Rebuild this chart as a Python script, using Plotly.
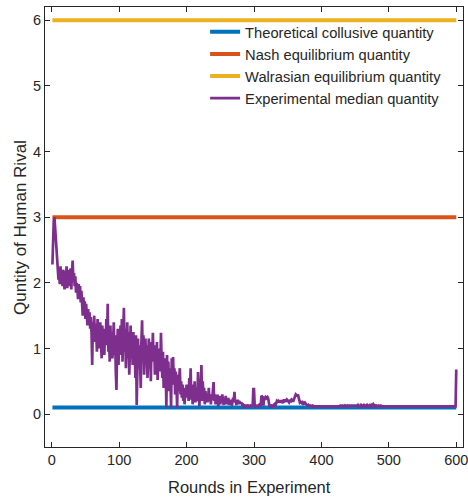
import plotly.graph_objects as go

# Benchmark quantities
collusive_q = 0.1
nash_q = 3.0
walras_q = 6.0
bench_rounds = [1, 600]

# Experimental median quantity, rounds 1-200
median_early = [
    2.28, 2.75, 2.95, 3.0, 2.85, 2.6, 2.45, 2.3, 2.2, 2.05,
    2.1, 1.98, 2.25, 2.0, 2.12, 1.95, 2.2, 2.05, 1.9, 2.18,
    2.02, 2.25, 1.92, 2.1, 2.2, 1.95, 2.08, 2.22, 1.9, 2.15,
    2.34, 2.05, 2.15, 1.95, 2.1, 1.85, 2.0, 1.92, 1.75, 1.98,
    1.8, 1.95, 1.7, 1.88, 1.65, 1.5, 1.78, 1.6, 1.72, 1.45,
    1.68, 1.52, 1.35, 1.6, 1.42, 1.55, 1.3, 1.48, 1.25, 0.75,
    1.4, 1.2, 1.5, 1.1, 1.38, 1.25, 0.95, 1.45, 1.15, 1.3,
    1.0, 1.4, 1.18, 0.85, 1.35, 1.05, 1.25, 0.9, 1.3, 1.1,
    1.45, 1.05, 1.68, 0.95, 1.2, 0.8, 1.35, 1.0, 1.25, 0.85,
    1.1, 1.4, 0.9, 1.2, 0.65, 0.37, 1.05, 1.3, 0.75, 1.15,
    0.9, 1.35, 1.0, 1.45, 0.8, 1.2, 1.62, 0.95, 1.3, 0.7,
    1.1, 1.4, 0.85, 1.25, 0.6, 1.05, 1.35, 0.9, 1.15, 0.75,
    1.25, 0.95, 1.1, 0.55, 1.2, 0.14, 0.9, 1.15, 0.7, 1.05,
    0.8, 0.4, 1.1, 1.43, 0.85, 1.2, 0.6, 1.0, 1.15, 0.75,
    1.05, 0.55, 0.95, 1.15, 0.7, 1.0, 0.5, 1.1, 0.85, 1.24,
    0.8, 1.05, 0.6, 0.95, 0.75, 1.1, 0.52, 0.9, 0.7, 1.0,
    0.65, 1.24, 0.8, 0.55, 0.95, 0.4, 0.85, 0.6, 0.75, 0.1,
    0.9, 0.5, 0.8, 0.35, 0.7, 0.55, 0.1, 0.85, 0.45, 0.87,
    0.5, 0.7, 0.3, 0.65, 0.45, 0.1, 0.6, 0.35, 0.55, 0.7,
    0.3, 0.5, 0.25, 0.45, 0.2, 0.4, 0.15, 0.35, 0.28, 0.45,
]

# rounds 201-390
median_mid = [
    0.25, 0.4, 0.2, 0.55, 0.3, 0.7, 0.22, 0.45, 0.15, 0.35,
    0.25, 0.5, 0.18, 0.4, 0.3, 0.2, 0.64, 0.35, 0.12, 0.45,
    0.3, 0.75, 0.2, 0.5, 0.28, 0.4, 0.15, 0.35, 0.22, 0.3,
    0.18, 0.25, 0.4, 0.2, 0.3, 0.15, 0.28, 0.22, 0.35, 0.49,
    0.2, 0.3, 0.15, 0.25, 0.18, 0.3, 0.12, 0.22, 0.28, 0.15,
    0.25, 0.18, 0.3, 0.2, 0.14, 0.24, 0.18, 0.28, 0.15, 0.22,
    0.18, 0.25, 0.14, 0.2, 0.16, 0.22, 0.13, 0.18, 0.25, 0.2,
    0.34, 0.18, 0.2, 0.14, 0.18, 0.22, 0.15, 0.2, 0.18, 0.16,
    0.18, 0.15, 0.13, 0.14, 0.12, 0.13, 0.12, 0.14, 0.12, 0.13,
    0.12, 0.13, 0.12, 0.12, 0.13, 0.12, 0.13, 0.12, 0.38, 0.38,
    0.13, 0.12, 0.13, 0.12, 0.12, 0.13, 0.12, 0.14, 0.13, 0.12,
    0.28, 0.27, 0.26, 0.13, 0.26, 0.25, 0.26, 0.24, 0.25, 0.26,
    0.24, 0.13, 0.12, 0.13, 0.12, 0.13, 0.12, 0.13, 0.14, 0.13,
    0.15, 0.14, 0.18, 0.2, 0.19, 0.2, 0.18, 0.21, 0.19, 0.2,
    0.2, 0.17, 0.19, 0.2, 0.22, 0.2, 0.21, 0.19, 0.22, 0.21,
    0.2, 0.18, 0.2, 0.21, 0.2, 0.22, 0.21, 0.19, 0.22, 0.25,
    0.28, 0.3, 0.29, 0.27, 0.3, 0.25, 0.2, 0.18, 0.19, 0.17,
    0.17, 0.18, 0.16, 0.17, 0.15, 0.17, 0.15, 0.14, 0.13, 0.13,
    0.14, 0.13, 0.12, 0.13, 0.12, 0.12, 0.13, 0.12, 0.12, 0.12,
]

# rounds 391-600
median_late = [
    0.12, 0.12, 0.11, 0.12, 0.12, 0.11, 0.12, 0.12, 0.12, 0.11, 0.12, 0.12, 0.11, 0.12, 0.12, 0.12, 0.11, 0.12, 0.12, 0.11,
    0.12, 0.11, 0.12, 0.12, 0.11, 0.12, 0.12, 0.12, 0.11, 0.12, 0.12, 0.11, 0.12, 0.12, 0.12, 0.11, 0.12, 0.13, 0.12, 0.12,
    0.13, 0.12, 0.12, 0.13, 0.12, 0.13, 0.12, 0.12, 0.13, 0.12, 0.13, 0.13, 0.12, 0.13, 0.12, 0.12, 0.13, 0.12, 0.13, 0.12,
    0.13, 0.12, 0.13, 0.14, 0.12, 0.13, 0.13, 0.12, 0.14, 0.13, 0.12, 0.13, 0.14, 0.13, 0.12, 0.13, 0.12, 0.14, 0.13, 0.12,
    0.13, 0.14, 0.13, 0.12, 0.14, 0.13, 0.15, 0.13, 0.12, 0.13, 0.12, 0.13, 0.12, 0.12, 0.13, 0.12, 0.12, 0.13, 0.12, 0.12,
    0.12, 0.11, 0.12, 0.12, 0.11, 0.12, 0.12, 0.12, 0.11, 0.12, 0.12, 0.12, 0.11, 0.12, 0.12, 0.11, 0.12, 0.12, 0.12, 0.11,
    0.12, 0.12, 0.11, 0.12, 0.12, 0.12, 0.11, 0.12, 0.12, 0.11, 0.12, 0.12, 0.12, 0.11, 0.12, 0.12, 0.11, 0.12, 0.12, 0.12,
    0.11, 0.12, 0.12, 0.12, 0.11, 0.12, 0.12, 0.11, 0.12, 0.12, 0.12, 0.11, 0.12, 0.12, 0.12, 0.11, 0.12, 0.12, 0.11, 0.12,
    0.12, 0.12, 0.11, 0.12, 0.12, 0.11, 0.12, 0.12, 0.12, 0.11, 0.12, 0.12, 0.11, 0.12, 0.12, 0.12, 0.11, 0.12, 0.12, 0.12,
    0.11, 0.12, 0.12, 0.11, 0.12, 0.12, 0.12, 0.11, 0.12, 0.12, 0.11, 0.12, 0.12, 0.12, 0.11, 0.12, 0.12, 0.12, 0.11, 0.12,
    0.12, 0.12, 0.11, 0.12, 0.12, 0.12, 0.11, 0.12, 0.12, 0.68,
]

median_q = median_early + median_mid + median_late
rounds = list(range(1, len(median_q) + 1))

x_ticks = [0, 100, 200, 300, 400, 500, 600]
y_ticks = [0, 1, 2, 3, 4, 5, 6]

BLUE = "#0072BD"
ORANGE = "#D95319"
YELLOW = "#EDB120"
PURPLE = "#7E2F8E"
AX = "#262626"
FONT = "Liberation Sans, Arial, sans-serif"

fig = go.Figure()
fig.add_trace(go.Scatter(x=bench_rounds, y=[collusive_q] * 2, mode="lines",
                         line=dict(color=BLUE, width=4), name="Theoretical collusive quantity"))
fig.add_trace(go.Scatter(x=bench_rounds, y=[nash_q] * 2, mode="lines",
                         line=dict(color=ORANGE, width=4), name="Nash equilibrium quantity"))
fig.add_trace(go.Scatter(x=bench_rounds, y=[walras_q] * 2, mode="lines",
                         line=dict(color=YELLOW, width=4), name="Walrasian equilibrium quantity"))
fig.add_trace(go.Scatter(x=rounds, y=median_q, mode="lines",
                         line=dict(color=PURPLE, width=2.7), name="Experimental median quantity"))

axis_common = dict(
    showline=True, linecolor=AX, linewidth=1, mirror="ticks",
    ticks="inside", ticklen=5, tickcolor=AX, tickwidth=1,
    showgrid=False, zeroline=False, automargin=False,
    ticklabeloverflow="allow",
    tickfont=dict(family=FONT, size=14.5, color=AX),
)

fig.update_layout(
    width=468, height=498,
    margin=dict(l=45, r=5, t=7, b=51),
    paper_bgcolor="white", plot_bgcolor="white",
    font=dict(family=FONT, size=14, color=AX),
    showlegend=True,
    legend=dict(
        x=0.383, y=0.98, xanchor="left", yanchor="top",
        bgcolor="rgba(255,255,255,0)", borderwidth=0,
        font=dict(family=FONT, size=14.7, color=AX),
        tracegroupgap=0, itemwidth=30,
    ),
    annotations=[
        dict(text="Rounds in Experiment", xref="paper", yref="paper",
             x=0.49, y=-0.09, xanchor="center", yanchor="middle",
             showarrow=False, font=dict(family=FONT, size=16.5, color=AX)),
        dict(text="Quntity of Human Rival", xref="paper", yref="paper",
             x=-0.06, y=0.5, xanchor="center", yanchor="middle", textangle=-90,
             showarrow=False, font=dict(family=FONT, size=17, color=AX)),
    ],
)
fig.update_xaxes(range=[-10, 610], tickvals=x_ticks, **axis_common)
fig.update_yaxes(range=[-0.5, 6.2], tickvals=y_ticks, **axis_common)

fig.write_html("out.html",
               config={"displayModeBar": False, "staticPlot": True},
               post_script="document.body.style.margin='0px';document.body.style.overflow='hidden';")
